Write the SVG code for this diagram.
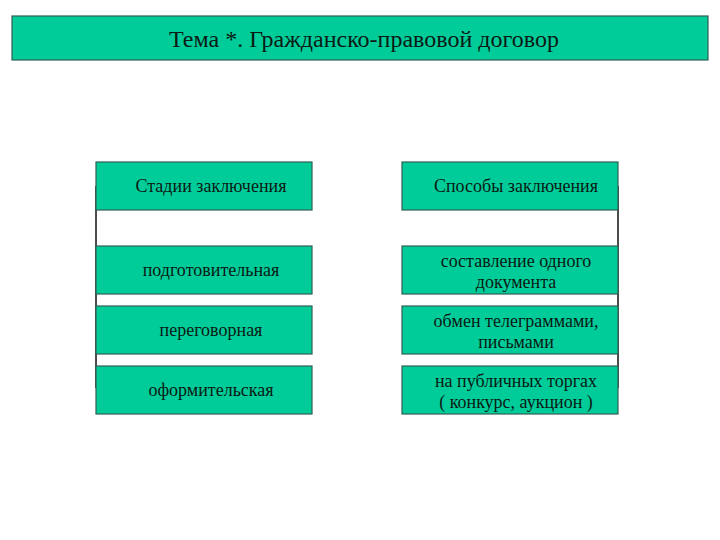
<svg xmlns="http://www.w3.org/2000/svg" width="720" height="540" viewBox="0 0 720 540">
<style>
.box{fill:#00CC99;stroke:#2F5F55;stroke-width:1.2}
.t{font-family:"Liberation Serif","Times New Roman",serif;font-size:18px;fill:#0A1A14;text-anchor:middle}
.title{font-family:"Liberation Serif","Times New Roman",serif;font-size:24px;fill:#0A1A14;text-anchor:middle}
.ln{stroke:#111;stroke-width:1.5;fill:none}
</style>
<rect width="720" height="540" fill="#fff"/>
<g id="title"><rect class="box" x="12" y="16" width="696" height="44"/><text class="title" x="364" y="47">Тема *. Гражданско-правовой договор</text></g>
<g id="connectors">
<line class="ln" x1="96" y1="186" x2="96" y2="388"/>
<line class="ln" x1="618" y1="186" x2="618" y2="388"/>
</g>
<g id="stages"><rect class="box" x="96" y="162" width="216" height="48"/><text class="t" x="211" y="192">Стадии заключения</text></g>
<g id="prep"><rect class="box" x="96" y="246" width="216" height="48"/><text class="t" x="211" y="276">подготовительная</text></g>
<g id="negot"><rect class="box" x="96" y="306" width="216" height="48"/><text class="t" x="211" y="336">переговорная</text></g>
<g id="formal"><rect class="box" x="96" y="366" width="216" height="48"/><text class="t" x="211" y="396">оформительская</text></g>
<g id="ways"><rect class="box" x="402" y="162" width="216" height="48"/><text class="t" x="516" y="192">Способы заключения</text></g>
<g id="doc"><rect class="box" x="402" y="246" width="216" height="48"/><text class="t" x="516" y="267">составление одного</text><text class="t" x="516" y="288">документа</text></g>
<g id="tele"><rect class="box" x="402" y="306" width="216" height="48"/><text class="t" x="516" y="327">обмен телеграммами,</text><text class="t" x="516" y="348">письмами</text></g>
<g id="auction"><rect class="box" x="402" y="366" width="216" height="48"/><text class="t" x="516" y="387">на публичных торгах</text><text class="t" x="516" y="408">( конкурс, аукцион )</text></g>
</svg>
